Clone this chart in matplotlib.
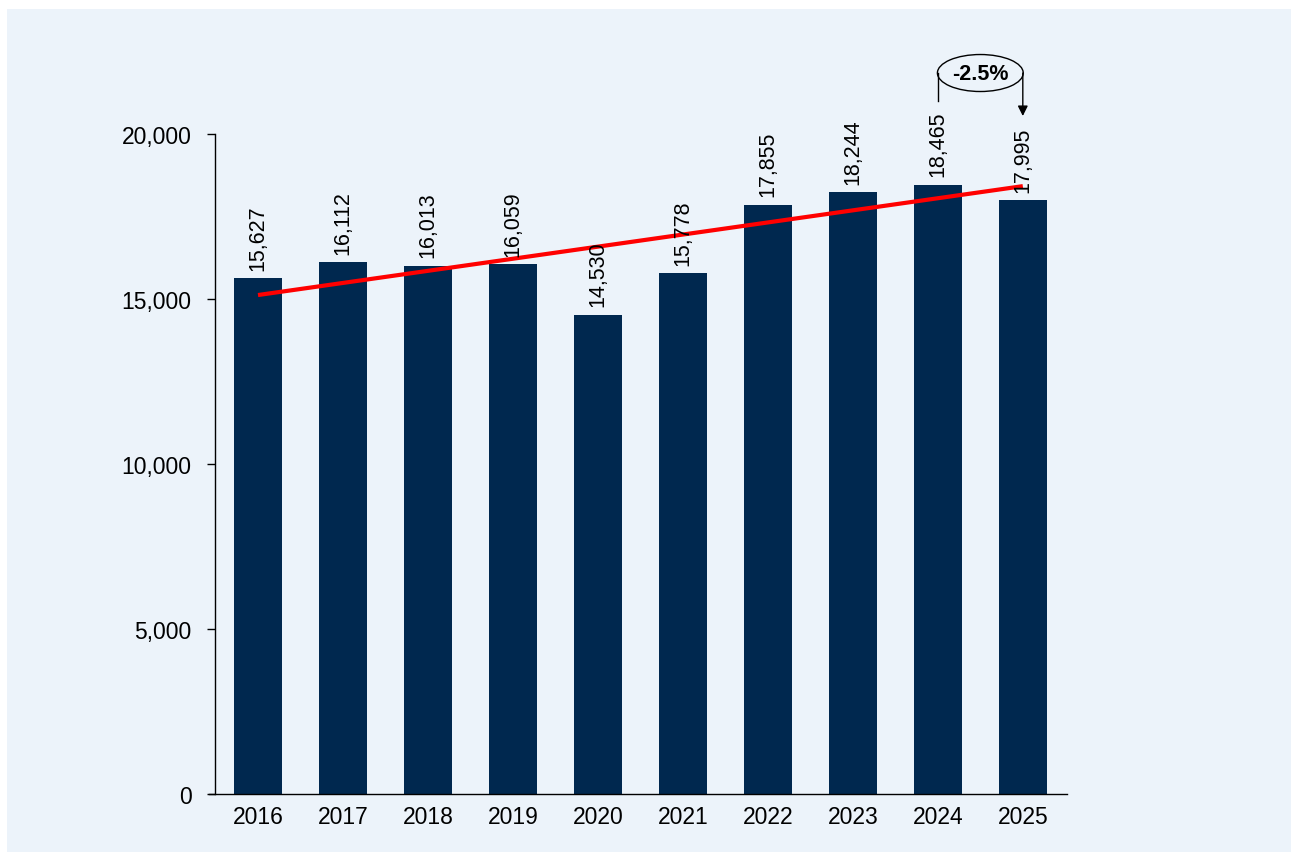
import matplotlib.pyplot as plt
from matplotlib.patches import Ellipse, Rectangle
from matplotlib.ticker import FuncFormatter

plt.rcParams['font.family'] = ['Liberation Sans', 'DejaVu Sans']

years = ['2016', '2017', '2018', '2019', '2020', '2021', '2022', '2023', '2024', '2025']
values = [15627, 16112, 16013, 16059, 14530, 15778, 17855, 18244, 18465, 17995]
# trend line end points
trend_x = [0, 9]
trend_y = [15120, 18420]
change_label = '-2.5%'

panel = '#ECF3FA'
navy = '#00284F'

fig = plt.figure(figsize=(12.91, 8.53), dpi=100)
fig.patch.set_facecolor('white')
fig.patches.append(Rectangle((7 / 1291, 0), 1 - 7 / 1291, 1 - 10 / 853,
                             transform=fig.transFigure, facecolor=panel,
                             edgecolor='none', zorder=-1))

ax = fig.add_axes([215 / 1291, 58 / 853, (1067 - 215) / 1291, (795 - 135) / 853])
ax.set_facecolor('none')

x = list(range(len(years)))
ax.bar(x, values, width=0.56, color=navy, zorder=2)
ax.plot(trend_x, trend_y, color='red', lw=3, zorder=3, solid_capstyle='butt')

for xi, v in zip(x, values):
    ax.annotate(f'{v:,}', (xi, v), xytext=(0, 6), textcoords='offset points',
                rotation=90, ha='center', va='bottom', fontsize=15.5, zorder=4)

ax.set_xlim(-0.506, 9.52)
ax.set_ylim(0, 20000)
ax.set_xticks(x)
ax.set_xticklabels(years)
ax.set_yticks([0, 5000, 10000, 15000, 20000])
ax.yaxis.set_major_formatter(FuncFormatter(lambda v, p: f'{int(v):,}'))
ax.tick_params(axis='x', length=0, pad=8, labelsize=16.5)
ax.tick_params(axis='y', length=6, width=1, pad=11, labelsize=16.5)
for s in ['top', 'right']:
    ax.spines[s].set_visible(False)
ax.spines['left'].set_linewidth(1)
ax.spines['bottom'].set_linewidth(1)
ax.spines['bottom'].set_bounds(-0.58, 9.52)

# change bracket between last two years
cy = 21848
ax.add_patch(Ellipse((8.5, cy), 1.01, 1121, facecolor=panel, edgecolor='black',
                     lw=1, clip_on=False, zorder=5))
ax.text(8.5, cy, change_label, ha='center', va='center', fontsize=15.5,
        fontweight='bold', zorder=6)
ax.plot([8, 8], [cy, 21000], color='black', lw=1, clip_on=False, zorder=5)
ax.annotate('', xy=(9, 20545), xytext=(9, cy),
            arrowprops=dict(arrowstyle='-|>', color='black', lw=1,
                            mutation_scale=15, shrinkA=0, shrinkB=0),
            annotation_clip=False, zorder=5)

fig.savefig('out.png', dpi=100)
